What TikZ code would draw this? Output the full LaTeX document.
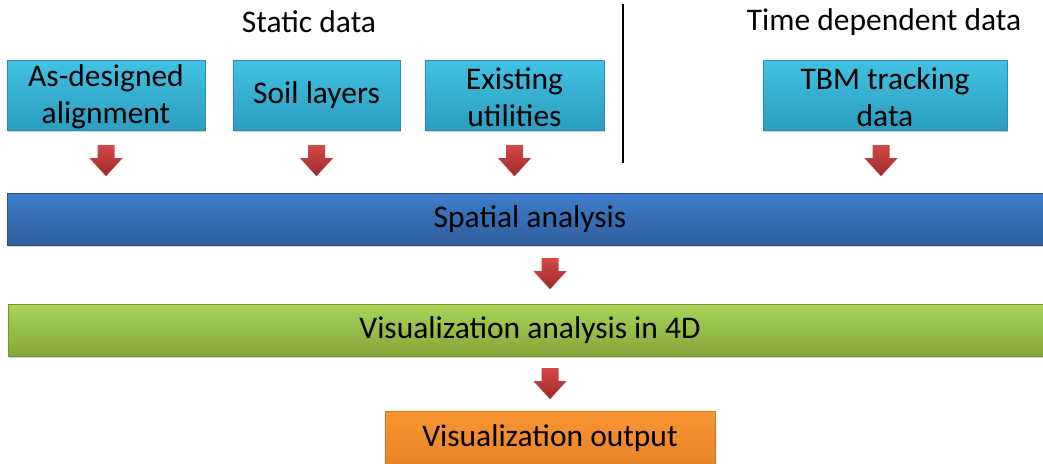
\documentclass[tikz,border=0pt]{standalone}
\usepackage{fontspec}
\setmainfont{Carlito}
\usetikzlibrary{shadows}
\definecolor{cyanT}{HTML}{41C2E3}
\definecolor{cyanB}{HTML}{2B9DC0}
\definecolor{cyanD}{HTML}{2A8FB0}
\definecolor{blueT}{HTML}{3E7DCC}
\definecolor{blueB}{HTML}{2F5E9C}
\definecolor{greenT}{HTML}{AAD458}
\definecolor{greenB}{HTML}{83A63A}
\definecolor{orangeT}{HTML}{FA9533}
\definecolor{orangeB}{HTML}{D9731E}
\definecolor{redT}{HTML}{D44848}
\definecolor{redB}{HTML}{9E2A2A}
\tikzset{
  base/.style={rectangle, inner sep=0pt, align=center, text=black,
    font=\fontsize{31.5}{37}\selectfont,
    drop shadow={opacity=0.35, shadow xshift=1pt, shadow yshift=-1.5pt}},
  databox/.style={base, top color=cyanT, bottom color=cyanB, draw=cyanD, line width=0.4pt,
    minimum height=70pt},
  barbox/.style={base, minimum height=52pt},
  label/.style={font=\fontsize{31.5}{37}\selectfont, inner sep=0pt},
  heading/.style={font=\fontsize{31.5}{37}\selectfont, inner sep=0pt},
  downarr/.pic={
    \path[top color=redT, bottom color=redB, draw=none]
      (-8.5,0) -- (8.5,0) -- (8.5,13) -- (16.5,13) -- (0,31) -- (-16.5,13) -- (-8.5,13) -- cycle;
  }
}
\begin{document}
\begin{tikzpicture}[x=1pt, y=-1pt]
\clip (0,0) rectangle (1043,463);
\fill[white] (0,0) rectangle (1043,463);

% headings and separator
\node[heading] (static) at (309,22) {Static data};
\node[heading] (timedep) at (884,22) {Time dependent data};
\coordinate (sepTop) at (623,4);
\coordinate (sepBot) at (623,163);
\draw[line width=1.3pt] (sepTop) -- (sepBot);

% input data boxes
\node[databox, minimum width=198pt] (align) at (106,95) {};
\node[label, align=center] at (106,97) {As-designed\\alignment};
\node[databox, minimum width=167pt] (soil) at (316.5,95) {Soil layers};
\node[databox, minimum width=179pt] (util) at (514.5,95) {};
\node[label, align=center] at (514.5,97) {Existing\\utilities};
\node[databox, minimum width=244pt] (tbm) at (885,95) {};
\node[label, align=center] at (885,97) {TBM tracking\\data};

% processing bars
\node[barbox, top color=blueT, bottom color=blueB, draw=blueB!90!black,
      minimum width=1060pt] (spatial) at (537,219) {};
\node[label] (spatialtxt) at (530,219) {Spatial analysis};
\node[barbox, top color=greenT, bottom color=greenB, draw=greenB!90!black,
      minimum width=1060pt] (vis) at (538,330) {};
\node[label] (vistxt) at (530,330) {Visualization analysis in 4D};
\node[base, top color=orangeT, bottom color=orangeB!90!orangeT, draw=orangeB, minimum width=330pt,
      minimum height=90pt] (out) at (550,456) {};
\node[label] (outtxt) at (550,438) {Visualization output};

% block arrows between stages
\path (align.south) ++(0,15) pic {downarr};
\path (soil.south) ++(0,15) pic {downarr};
\path (util.south) ++(0,15) pic {downarr};
\path (tbm.south) ++(-4,15) pic {downarr};
\path (spatial.south -| out.north) ++(0,13) pic {downarr};
\path (vis.south -| out.north) ++(0,12) pic {downarr};
\end{tikzpicture}
\end{document}
